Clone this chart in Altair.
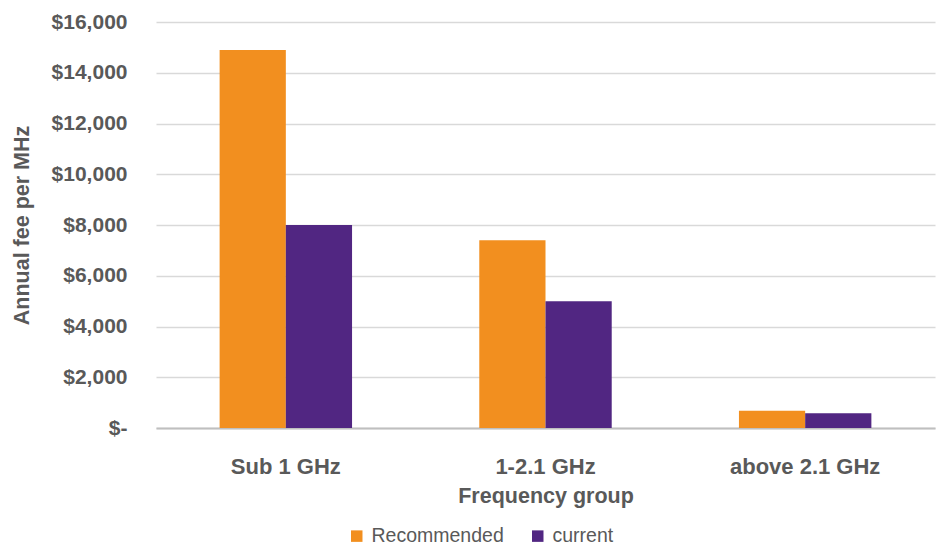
import altair as alt
import pandas as pd

# Annual fee per MHz by frequency group
groups = ["Sub 1 GHz", "1-2.1 GHz", "above 2.1 GHz"]
series = ["Recommended", "current"]
recommended = [14900, 7400, 680]
current = [8000, 5000, 580]
colors = ["#F28F1F", "#512682"]
y_ticks = [0, 2000, 4000, 6000, 8000, 10000, 12000, 14000, 16000]

rows = []
for g, r, c in zip(groups, recommended, current):
    rows.append({"group": g, "series": series[0], "fee": r})
    rows.append({"group": g, "series": series[1], "fee": c})
df = pd.DataFrame(rows)

FONT = "Liberation Sans, Arial, sans-serif"
TEXT = "#595959"

chart = (
    alt.Chart(df)
    .mark_bar()
    .encode(
        x=alt.X(
            "group:N",
            sort=groups,
            scale=alt.Scale(paddingInner=0.49, paddingOuter=0.245),
            axis=alt.Axis(
                title="Frequency group",
                labelAngle=0,
                labelFont=FONT,
                labelFontSize=22,
                labelFontWeight="bold",
                labelColor=TEXT,
                labelBaseline="middle",
                labelPadding=38,
                labelLimit=400,
                ticks=False,
                domainColor="#bfbfbf",
                domainWidth=2,
                titleFont=FONT,
                titleFontSize=21.5,
                titleFontWeight="bold",
                titleColor=TEXT,
                titleBaseline="middle",
                titleY=68,
            ),
        ),
        xOffset=alt.XOffset(
            "series:N", sort=series, scale=alt.Scale(paddingInner=0, paddingOuter=0)
        ),
        y=alt.Y(
            "fee:Q",
            scale=alt.Scale(domain=[0, 16000], nice=False),
            axis=alt.Axis(
                title="Annual fee per MHz",
                values=y_ticks,
                labelExpr="datum.value == 0 ? '$-' : '$' + format(datum.value, ',')",
                labelFont=FONT,
                labelFontSize=21,
                labelFontWeight="bold",
                labelColor=TEXT,
                labelPadding=29,
                ticks=False,
                domain=False,
                gridColor="#d9d9d9",
                gridWidth=1.5,
                titleFont=FONT,
                titleFontSize=21.5,
                titleFontWeight="bold",
                titleColor=TEXT,
                titleAngle=270,
                titleAlign="center",
                titleBaseline="middle",
                titleX=-134,
                titleY=203,
            ),
        ),
        color=alt.Color(
            "series:N",
            sort=series,
            scale=alt.Scale(domain=series, range=colors),
            legend=alt.Legend(
                title=None,
                orient="none",
                legendX=191,
                legendY=504,
                direction="horizontal",
                symbolType="square",
                symbolSize=132,
                symbolStrokeWidth=0,
                labelFont=FONT,
                labelFontSize=19.5,
                labelColor=TEXT,
                labelLimit=300,
                columnPadding=24,
                labelOffset=5,
            ),
        ),
    )
    .properties(
        width=779,
        height=406,
        autosize=alt.AutoSizeParams(type="none"),
        padding={"left": 156, "top": 22, "right": 1, "bottom": 124},
    )
    .configure_view(stroke=None)
)

chart.save("out.html", embed_options={"renderer": "svg", "actions": False})
